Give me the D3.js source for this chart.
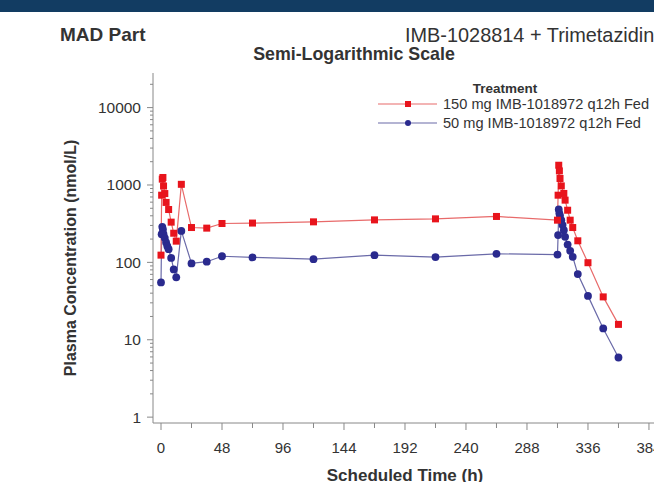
<!DOCTYPE html>
<html><head><meta charset="utf-8">
<script src="https://cdn.jsdelivr.net/npm/d3@7"></script>
<style>
html,body{margin:0;padding:0;background:#fff;overflow:hidden;}
svg{display:block;font-family:"Liberation Sans",Arial,sans-serif;}
</style></head>
<body>
<svg id="c" width="654" height="482"></svg>
<script>
// ---- data ----
const highTimes = [0,0.5,1,1.5,2,3,4,6,8,10,12,16,24,36,48,72,120,168,216,264,312,312.5,313,313.5,314,315,317,318,320,322,324,328,336,348,360];
const highValues = [124,738,1190,1250,970,775,595,482,331,238,188,1020,282,277,318,322,334,354,365,392,351,738,1800,1520,1213,973,777,637,472,351,282,190,99,35.8,15.8];
const lowTimes = [0,0.5,1,1.5,2,3,4,5,6,8,10,12,16,24,36,48,72,120,168,216,264,312,312.5,313,313.5,314,315,316,317,318,320,322,324,328,336,348,360];
const lowValues = [55,231,288,266,231,206,181,162,148,114,81,64,255,97,102,120,116,110,124,117,129,126,225,482,428,399,351,303,261,214,170,141,118,70.5,36.9,14,5.9];
const seriesNames = ["150 mg IMB-1018972 q12h Fed","50 mg IMB-1018972 q12h Fed"];
const xTicks = [0,48,96,144,192,240,288,336,384];
const xMinorTicks = [24,72,120,168,216,264,312,360];
const yTicks = [1,10,100,1000,10000];

const svg = d3.select("#c");
const x = d3.scaleLinear().domain([-6.3,400]).range([153,669.3]);
const y = d3.scaleLog().domain([0.84,28000]).range([423,73]);

// banner
svg.append("rect").attr("x",0).attr("y",0).attr("width",654).attr("height",12).attr("fill","#123c62");

// titles
svg.append("text").attr("x",60).attr("y",41).attr("font-size",19).attr("font-weight","bold").attr("fill","#333").text("MAD Part");
svg.append("text").attr("x",405).attr("y",42).attr("font-size",19.9).attr("fill","#333").text("IMB-1028814 + Trimetazidine");
svg.append("text").attr("x",354).attr("y",60).attr("text-anchor","middle").attr("font-size",17.8).attr("font-weight","bold").attr("fill","#333").text("Semi-Logarithmic Scale");

// axes
const axCol = "#888";
const gy = svg.append("g");
gy.append("line").attr("x1",153).attr("x2",153).attr("y1",73).attr("y2",423).attr("stroke",axCol);
const minorY = [];
[1,10,100,1000,10000].forEach(d=>{for(let k=2;k<=9;k++){const v=d*k; if(v<28000) minorY.push(v);}});
gy.selectAll(".my").data(minorY).join("line").attr("x1",150).attr("x2",153).attr("y1",d=>y(d)).attr("y2",d=>y(d)).attr("stroke",axCol);
gy.selectAll(".My").data(yTicks).join("line").attr("x1",147).attr("x2",153).attr("y1",d=>y(d)).attr("y2",d=>y(d)).attr("stroke",axCol);
gy.selectAll(".ty").data(yTicks).join("text").attr("x",141).attr("y",d=>y(d)+5.5).attr("text-anchor","end").attr("font-size",15.5).attr("fill","#333").text(d=>d);

const gx = svg.append("g");
gx.append("line").attr("x1",153).attr("x2",669).attr("y1",423).attr("y2",423).attr("stroke",axCol);
gx.selectAll(".Mx").data(xTicks).join("line").attr("x1",d=>x(d)).attr("x2",d=>x(d)).attr("y1",423).attr("y2",430).attr("stroke",axCol);
gx.selectAll(".mx").data(xMinorTicks).join("line").attr("x1",d=>x(d)).attr("x2",d=>x(d)).attr("y1",423).attr("y2",428).attr("stroke",axCol);
gx.selectAll(".tx").data(xTicks).join("text").attr("x",d=>x(d)).attr("y",453).attr("text-anchor","middle").attr("font-size",15).attr("fill","#333").text(d=>d);

svg.append("text").attr("x",405).attr("y",481).attr("text-anchor","middle").attr("font-size",17).attr("font-weight","bold").attr("fill","#333").text("Scheduled Time (h)");
svg.append("text").attr("transform","translate(76,258) rotate(-90)").attr("text-anchor","middle").attr("font-size",16).attr("font-weight","bold").attr("fill","#333").text("Plasma Concentration (nmol/L)");

// series
const red = "#e8141c", redLine = "#e86a6a", blue = "#2a2a8e", blueLine = "#6a6aa8";
const hi = highTimes.map((t,i)=>({t,v:highValues[i]}));
const lo = lowTimes.map((t,i)=>({t,v:lowValues[i]}));
const line = d3.line().x(d=>x(d.t)).y(d=>y(d.v));
svg.append("path").datum(lo).attr("d",line).attr("fill","none").attr("stroke",blueLine).attr("stroke-width",1.2);
svg.append("path").datum(hi).attr("d",line).attr("fill","none").attr("stroke",redLine).attr("stroke-width",1.2);
svg.selectAll(".pl").data(lo).join("circle").attr("cx",d=>x(d.t)).attr("cy",d=>y(d.v)).attr("r",3.9).attr("fill",blue);
svg.selectAll(".ph").data(hi).join("rect").attr("x",d=>x(d.t)-3.5).attr("y",d=>y(d.v)-3.5).attr("width",7).attr("height",7).attr("fill",red);

// legend
svg.append("text").attr("x",505).attr("y",93).attr("text-anchor","middle").attr("font-size",13.5).attr("font-weight","bold").attr("fill","#333").text("Treatment");
const lg = [{n:seriesNames[0],c:red,lc:redLine,yy:104,shape:"sq"},{n:seriesNames[1],c:blue,lc:blueLine,yy:123,shape:"ci"}];
lg.forEach(d=>{
  svg.append("line").attr("x1",378).attr("x2",437).attr("y1",d.yy).attr("y2",d.yy).attr("stroke",d.lc).attr("stroke-width",1.2);
  if(d.shape==="sq") svg.append("rect").attr("x",405).attr("y",d.yy-3).attr("width",6).attr("height",6).attr("fill",d.c);
  else svg.append("circle").attr("cx",408).attr("cy",d.yy).attr("r",3).attr("fill",d.c);
  svg.append("text").attr("x",443).attr("y",d.yy+5).attr("font-size",14.6).attr("fill","#333").text(d.n);
});
</script>
</body></html>
